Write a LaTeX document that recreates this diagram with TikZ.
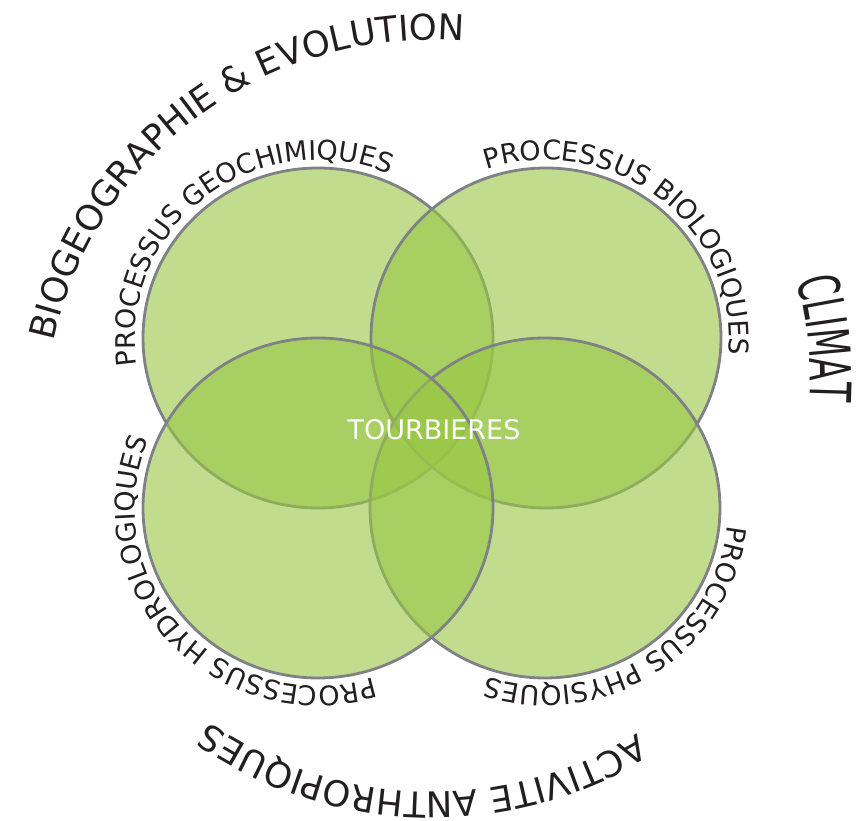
\documentclass[tikz,border=0pt]{standalone}
\usepackage{fontspec}
\setmainfont{DejaVu Sans}
\newfontfamily\climatfont[FakeStretch=0.58]{DejaVu Sans}
\usetikzlibrary{decorations.text}
\definecolor{leaf}{RGB}{153,199,70}
\definecolor{rim}{RGB}{128,128,135}
\definecolor{txt}{RGB}{35,31,32}
\tikzset{
  petal/.style={fill=leaf, fill opacity=0.62, draw=rim, draw opacity=1, line width=2.8pt},
  arclabel/.style={decorate, decoration={text along path, text align=center, text={|\fontsize{27}{32}\selectfont\color{txt}|#1}}},
  outerlabel/.style={decorate, decoration={text along path, text align=center, text={|\fontsize{35.5}{42}\selectfont\color{txt}|#1}}},
}
\begin{document}
\begin{tikzpicture}[x=1pt,y=1pt]
\useasboundingbox (0,0) rectangle (857,820);
\coordinate (tl) at (318,482);
\coordinate (tr) at (546,482);
\coordinate (bl) at (318,312);
\coordinate (br) at (545,312);
\coordinate (mid) at (432,402);
\coordinate (midc) at (432,440);
% circles
\path[petal] (tl) ellipse [x radius=175pt, y radius=170pt];
\path[petal] (tr) ellipse [x radius=175pt, y radius=170pt];
\path[petal] (br) ellipse [x radius=175pt, y radius=170pt];
\path[petal] (bl) ellipse [x radius=175pt, y radius=170pt];
\node[text=white, font=\fontsize{27}{32}\selectfont] (tourb) at (434,390) {TOURBIERES};
% inner labels
\path[arclabel={PROCESSUS GEOCHIMIQUES}] (tl) ++(208:183pt and 178pt) arc[start angle=208, end angle=48, x radius=183pt, y radius=178pt];
\path[arclabel={PROCESSUS BIOLOGIQUES}] (tr) ++(131.6:183pt and 178pt) arc[start angle=131.6, end angle=-28.4, x radius=183pt, y radius=178pt];
\path[arclabel={PROCESSUS HYDROLOGIQUES}] (bl) ++(302.4:183pt and 178pt) arc[start angle=302.4, end angle=142.4, x radius=183pt, y radius=178pt];
\path[arclabel={PROCESSUS PHYSIQUES}] (br) ++(23.3:183pt and 178pt) arc[start angle=23.3, end angle=-136.7, x radius=183pt, y radius=178pt];
% outer labels
\path[outerlabel={BIOGEOGRAPHIE {\&} EVOLUTION}] (mid) ++(191:386pt and 378pt) arc[start angle=191, end angle=63, x radius=386pt, y radius=378pt];
\path[decorate, decoration={text along path, text align=center, text={|\fontsize{57}{64}\climatfont\color{txt}|CLIMAT}}] (midc) ++(36:378pt and 378pt) arc[start angle=36, end angle=-24, x radius=378pt, y radius=378pt];
\path[outerlabel={ACTIVITE ANTHROPIQUES}] (mid) ++(-21.6:384pt and 374pt) arc[start angle=-21.6, end angle=-161.6, x radius=384pt, y radius=374pt];
\end{tikzpicture}
\end{document}
